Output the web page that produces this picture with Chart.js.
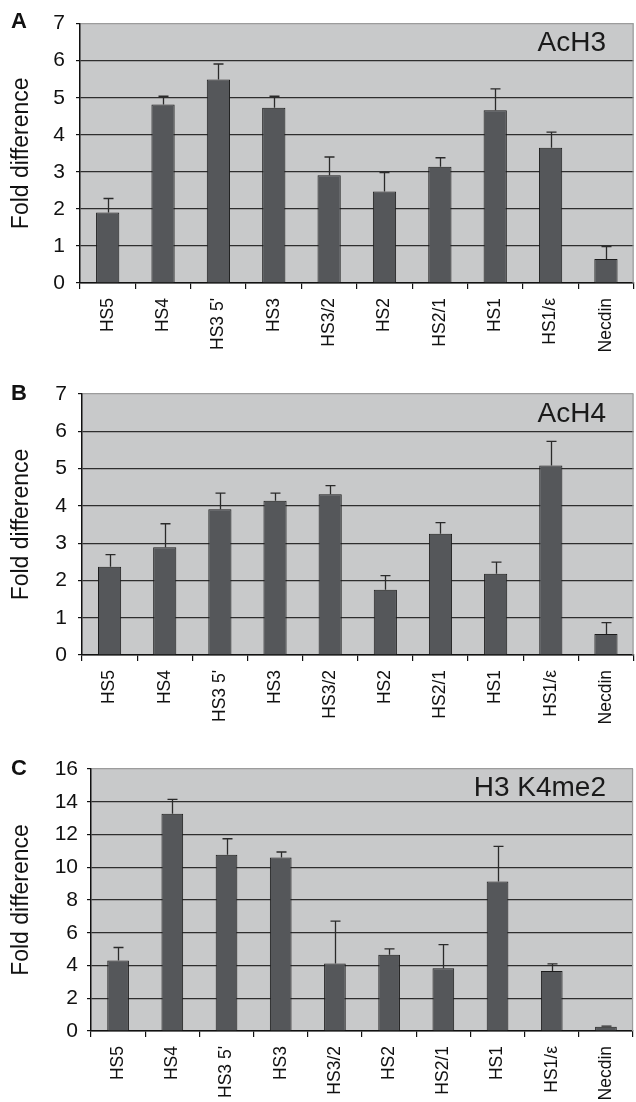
<!DOCTYPE html>
<html><head><meta charset="utf-8">
<script src="https://cdn.jsdelivr.net/npm/chart.js@4/dist/chart.umd.min.js"></script>
<style>
html,body{margin:0;padding:0;background:#fff;width:636px;height:1102px;overflow:hidden;}
.panel{position:absolute;left:0;width:636px;}
canvas{display:block;}
.letter{position:absolute;font:bold 22px/22px 'Liberation Sans',Arial,sans-serif;color:#111;}
.ptitle{position:absolute;right:30px;font:28px/28px 'Liberation Sans',Arial,sans-serif;color:#1a1a1a;white-space:nowrap;}
</style></head><body>
<div class="panel" style="top:0;height:370px"><canvas id="cA" width="636" height="370"></canvas></div>
<div class="panel" style="top:370px;height:370px"><canvas id="cB" width="636" height="370"></canvas></div>
<div class="panel" style="top:740px;height:362px"><canvas id="cC" width="636" height="362"></canvas></div>
<div class="letter" style="left:11px;top:10px">A</div>
<div class="letter" style="left:11px;top:382px">B</div>
<div class="letter" style="left:11px;top:757px">C</div>
<div class="ptitle" style="top:28px">AcH3</div>
<div class="ptitle" style="top:399px">AcH4</div>
<div class="ptitle" style="top:773px">H3 K4me2</div>
<script>
// ---- data ----
const categories = ["HS5", "HS4", "HS3 5'", "HS3", "HS3/2", "HS2", "HS2/1", "HS1", "HS1/\u03B5", "Necdin"];
const acH3Values = [1.90, 4.82, 5.49, 4.73, 2.91, 2.47, 3.14, 4.66, 3.65, 0.65];
const acH3Errors = [0.38, 0.22, 0.42, 0.31, 0.49, 0.51, 0.24, 0.58, 0.42, 0.33];
const acH4Values = [2.37, 2.89, 3.91, 4.14, 4.31, 1.75, 3.25, 2.18, 5.08, 0.56];
const acH4Errors = [0.32, 0.63, 0.43, 0.20, 0.23, 0.38, 0.30, 0.31, 0.65, 0.31];
const k4me2Values = [4.30, 13.27, 10.76, 10.60, 4.12, 4.65, 3.83, 9.13, 3.67, 0.26];
const k4me2Errors = [0.80, 0.88, 0.98, 0.33, 2.59, 0.37, 1.45, 2.14, 0.43, 0.04];
const yAxisTitle = "Fold difference";

const FONT = "'Liberation Sans', Arial, sans-serif";

const decor = {
  id: 'decor',
  beforeDraw(chart) {
    const {ctx, chartArea: a} = chart;
    ctx.save();
    ctx.fillStyle = '#c8c9ca';
    ctx.fillRect(a.left, a.top, a.right - a.left, a.bottom - a.top);
    ctx.restore();
  },
  afterDatasetsDraw(chart, args, opts) {
    const {ctx} = chart;
    const ys = chart.scales.y;
    const ds = chart.data.datasets[0];
    const meta = chart.getDatasetMeta(0);
    ctx.save();
    ctx.strokeStyle = '#2a2a2a';
    ctx.lineWidth = 1.3;
    meta.data.forEach((el, i) => {
      const top = ys.getPixelForValue(ds.data[i] + opts.errors[i]);
      const x = Math.round(el.x) + 0.5;
      ctx.beginPath();
      ctx.moveTo(x, el.y);
      ctx.lineTo(x, top);
      ctx.moveTo(x - 5, top);
      ctx.lineTo(x + 5, top);
      ctx.stroke();
    });
    const a = chart.chartArea;
    ctx.strokeStyle = '#9c9c9c';
    ctx.lineWidth = 1.2;
    ctx.beginPath();
    ctx.moveTo(a.right - 0.5, a.top);
    ctx.lineTo(a.right - 0.5, a.bottom);
    ctx.stroke();
    ctx.restore();
  }
};

function makeChart(id, values, errors, yMax, yStep, g) {
  return new Chart(document.getElementById(id), {
    type: 'bar',
    data: {
      labels: categories,
      datasets: [{
        data: values,
        backgroundColor: '#55575a',
        borderColor: '#1c1c1c',
        borderWidth: 1,
        barPercentage: g.barPct,
        categoryPercentage: 1.0
      }]
    },
    options: {
      responsive: false,
      animation: false,
      devicePixelRatio: 1,
      layout: {padding: {top: g.top, right: 1, bottom: 0, left: 0}},
      plugins: {legend: {display: false}, tooltip: {enabled: false}, decor: {errors: errors}},
      scales: {
        x: {
          offset: true,
          afterFit: s => { s.height = g.xh; },
          grid: {drawOnChartArea: false, drawTicks: true, tickLength: 6, offset: true, color: '#111', lineWidth: 1.2},
          border: {display: true, color: '#111', width: 1.5},
          ticks: {autoSkip: false, minRotation: 90, maxRotation: 90, padding: 9,
                  font: {family: FONT, size: 17.5}, color: '#111'}
        },
        y: {
          min: 0, max: yMax,
          afterFit: s => { s.width = g.yw; },
          grid: {color: c => (c.tick && c.tick.value === yMax) ? '#9c9c9c' : '#2e2e2e', lineWidth: 1.2, tickLength: 4, tickColor: '#111'},
          border: {display: true, color: '#111', width: 1.5},
          ticks: {stepSize: yStep, padding: g.tp, font: {family: FONT, size: 21}, color: '#111'},
          title: {display: true, text: yAxisTitle, font: {family: FONT, size: 23}, color: '#111', padding: {top: 8, bottom: 0}}
        }
      }
    },
    plugins: [decor]
  });
}

makeChart('cA', acH3Values, acH3Errors, 7, 1, {top: 20, xh: 87, yw: 80, barPct: 0.42, tp: 11});
makeChart('cB', acH4Values, acH4Errors, 7, 1, {top: 24, xh: 85, yw: 82, barPct: 0.42, tp: 11});
makeChart('cC', k4me2Values, k4me2Errors, 16, 2, {top: 29, xh: 71, yw: 91, barPct: 0.40, tp: 9});
</script>
</body></html>
